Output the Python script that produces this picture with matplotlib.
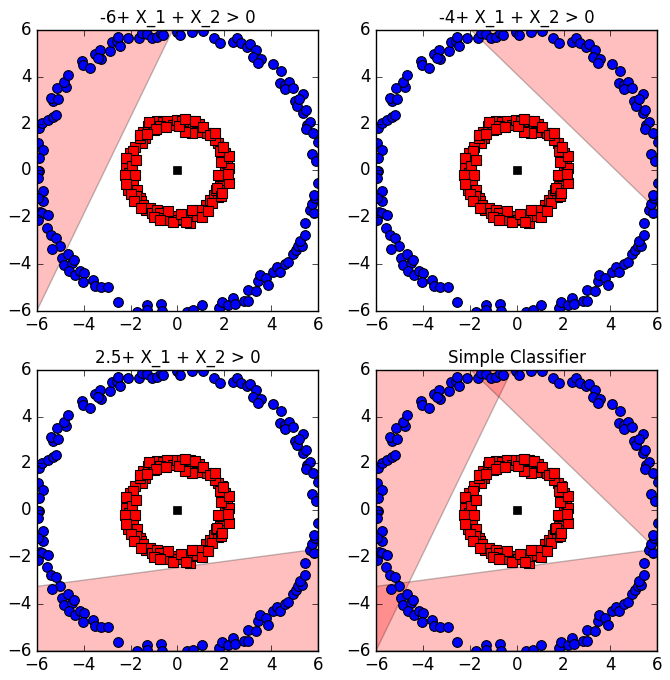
import numpy as np
import matplotlib.pyplot as plt

plt.style.use('classic')

# outer ring (blue circles)
blue_x = [-5.9, -5.76, -5.52, -5.33, -5.19, -5.94, -5.73, -5.9, -5.9, -5.3, -5.41, -5.09,
          -5.16, -4.76, -4.83, -4.66, -4.09, -4.02, -3.74, -3.52, -3.31, -3.28, -3.38, -2.88,
          -2.81, -2.57, -2.46, -2.53, -2.1, -1.63, -1.53, -1.29, -1.1, -0.89, -0.72, -0.6,
          -0.03, 0.11, 0.6, 1.1, 1.56, 1.81, 2.38, 2.53, 2.7, 2.95, 3.1, 3.35, 3.24, 3.55,
          3.45, 4.06, 4.4, 4.38, 4.59, 4.77, 4.59, 4.92, 5.37, 5.02, 5.09, 5.2, 5.37, 5.49,
          5.52, 5.66, 5.49, 5.8, 6.01, 5.73, 5.91,
          -5.94, -5.94, -5.73, -5.73, -5.94, -5.87, -5.76, -5.52, -5.94, -5.56, -5.41, -5.19,
          -5.02, -5.37, -4.94, -4.66, -4.85, -4.52, -4.42, -4.62, -4.38, -4.16, -3.99, -4.05,
          -3.6, -3.52, -3.28, -2.95, -2.53, -1.72, -1.32, -1.29, -0.72, -0.68,
          0.39, 0.68, 1.03, 1.79, 1.89, 2.17, 2.36, 2.46, 2.84, 3.02, 3.02, 3.35, 3.45, 3.52,
          3.78, 3.88, 4.06, 4.26, 4.38, 4.59, 4.73, 4.92, 5.06, 5.16, 5.3, 5.23, 5.44, 5.44,
          5.66, 5.83, 5.73, 5.87, 5.83, 6.01]
blue_y = [1.8, 2.02, 2.16, 2.26, 2.37, 1.16, 0.88, 0.52, -0.02, 2.97, 3.11, 3.05,
          3.51, 3.58, 3.77, 4.08, 4.68, 4.5, 4.39, 4.96, 5.15, 4.75, 4.82, 5.1,
          5.5, 5.53, 5.33, 5.71, 5.67, 5.67, 5.86, 5.82, 5.64, 5.71, 5.86, 5.79,
          5.93, 5.79, 5.93, 5.96, 5.67, 5.43, 5.5, 5.67, 5.43, 5.29, 5.39, 5.15, 4.86, 4.76,
          4.58, 4.53, 4.25, 3.72, 3.65, 3.79, 3.48, 3.54, 3.25, 2.97, 2.77, 3.05, 2.44, 2.58,
          1.94, 2.08, 1.77, 1.59, 1.23, 0.69, 0.41,
          -0.02, -0.33, -0.9, -1.3, -1.19, -1.76, -1.83, -1.9, -2.11, -2.44, -2.75, -2.87,
          -3.25, -3.35, -3.75, -3.58, -4.06, -3.96, -3.82, -4.29, -4.49, -4.29, -4.39, -4.77,
          -4.68, -4.96, -5.0, -5.0, -5.63, -6.03, -5.77, -5.96, -5.71, -6.0,
          -6.03, -5.96, -5.77, -5.88, -5.63, -5.74, -5.46, -5.71, -5.57, -5.57, -5.1, -5.15,
          -4.72, -4.49, -4.6, -4.89, -4.32, -4.11, -4.32, -4.01, -3.92, -3.58, -3.39, -3.25,
          -3.21, -3.01, -2.78, -2.25, -1.69, -1.83, -1.44, -1.19, -1.05, -0.55]

# inner ring (red squares)
red_x = [-1.45, -1.24, -1.05, -0.88, -0.63, -0.43, -0.2, -0.03, 0.18, 0.4, 0.54, 0.68,
         0.9, 1.08, 1.28, 0.82, 0.61, 0.33, -0.74, -1.02, -1.38, -1.51,
         -1.81, -1.59, -2.02, -1.88, -2.09, -2.19, -2.05, -1.95, -2.13, -1.91, -2.09, -1.73,
         -1.62, -1.56, -1.76, -1.48,
         -1.34, -1.19, -1.09, -0.88, -0.74, -0.6, -0.31, -0.1, 0.04, 0.23, 0.4, 0.54, 0.68,
         0.85, 1.04, 1.22, 0.9,
         1.39, 1.54, 1.71, 1.65, 1.82, 1.96, 1.89, 2.03, 2.11, 1.93, 2.03, 1.89, 1.75, 1.61,
         1.82, 1.68, 1.47,
         -1.2, -0.9, -0.5, 0.05, 0.3, 0.75, 1.1, 1.4, -1.6, -1.3,
         -2.2, -1.95, -2.25, -1.8, -2.0, -1.85, -2.2, -1.75,
         -1.55, -1.0, -0.4, -0.2, 0.15, 0.6, 1.05, 1.3, -0.75, 0.35,
         1.85, 2.2, 1.75, 2.2, 1.85, 2.2, 1.95, 1.6, 1.9, 2.15]
red_y = [1.66, 1.88, 2.02, 2.09, 2.05, 2.13, 1.95, 2.16, 2.13, 2.05, 2.13, 1.95,
         1.99, 1.62, 1.59, 1.62, 1.59, 1.66, 1.88, 1.73, 1.38, 1.17,
         1.02, 1.38, 0.74, 0.81, 0.38, 0.1, -0.11, -0.33, -0.47, -0.54, -0.82, -0.82,
         -1.18, -1.32, -1.11, -1.46,
         -1.68, -1.61, -1.82, -1.68, -1.82, -2.03, -2.1, -1.96, -2.1, -2.08, -1.89, -2.25, -1.96,
         -1.93, -1.75, -1.46, -1.68,
         -1.25, -1.04, -1.14, -0.82, -0.68, -0.4, -0.26, -0.04, 0.31, 0.46, 0.74, 1.02, 1.17, 1.31,
         0.81, -0.75, -1.39,
         2.05, 1.75, 1.85, 1.9, 2.2, 2.1, 1.85, 1.5, 1.5, 1.55,
         0.55, 0.2, -0.2, -0.2, -1.0, -1.3, -0.6, 0.45,
         -1.6, -2.0, -1.75, -2.2, -1.85, -1.7, -2.0, -1.75, -2.1, -2.2,
         -1.1, -0.55, -0.2, 0.1, 0.35, 0.6, 1.0, 1.6, -0.95, -0.15]

# decision regions (polygon corners)
region1_x = [-6, -0.2, -6]
region1_y = [-6, 6, 6]
region2_x = [-1.95, 6, 6]
region2_y = [6, 6, -1.7]
region3_x = [-6, 6, 6, -6]
region3_y = [-3.25, -1.65, -6, -6]

titles = ['-6+ X_1 + X_2 > 0', '-4+ X_1 + X_2 > 0', '2.5+ X_1 + X_2 > 0', 'Simple Classifier']
regions = [[(region1_x, region1_y)],
           [(region2_x, region2_y)],
           [(region3_x, region3_y)],
           [(region1_x, region1_y), (region2_x, region2_y), (region3_x, region3_y)]]

fig, axes = plt.subplots(2, 2, figsize=(6.7, 6.8), dpi=100, facecolor='white')
fig.subplots_adjust(left=0.055, right=0.981, top=0.956, bottom=0.043, wspace=0.206, hspace=0.21)

for ax, title, polys in zip(axes.flat, titles, regions):
    for px, py in polys:
        ax.fill(px, py, facecolor='red', edgecolor='k', alpha=0.25)
    ax.plot(blue_x, blue_y, 'bo', markersize=7, markeredgewidth=0.8)
    ax.plot(red_x, red_y, 'rs', markersize=7, markeredgewidth=0.8)
    ax.plot([0], [0], 'ks', markersize=6)
    ax.set_xlim(-6, 6)
    ax.set_ylim(-6, 6)
    ax.set_xticks(range(-6, 7, 2))
    ax.set_yticks(range(-6, 7, 2))
    ax.set_title(title, fontsize=12)

plt.savefig('out.png', facecolor='white')
